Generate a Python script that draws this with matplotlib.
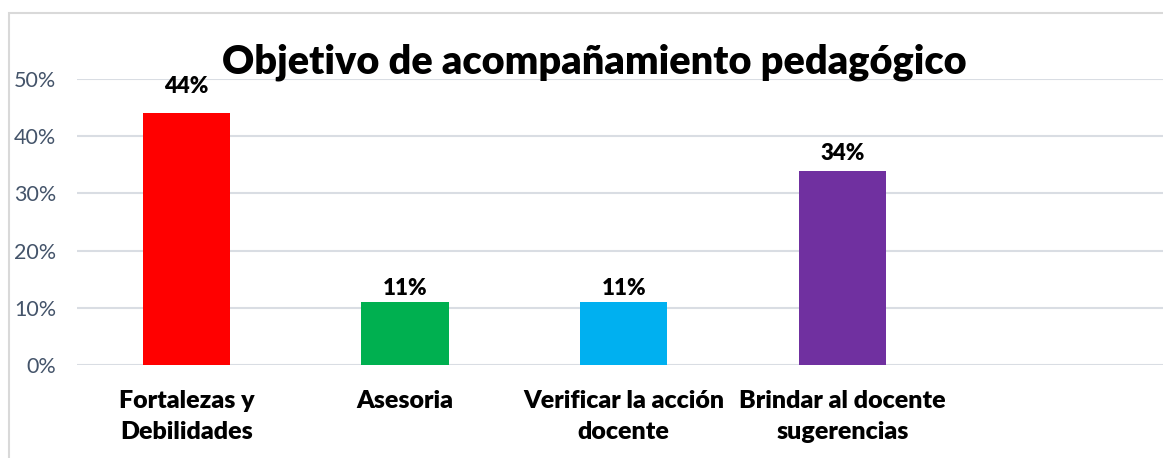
import matplotlib.pyplot as plt
from matplotlib.patches import Rectangle
from matplotlib.ticker import FuncFormatter

categorias = ["Fortalezas y\nDebilidades", "Asesoria", "Verificar la acción\ndocente", "Brindar al docente\nsugerencias"]
valores = [0.44, 0.11, 0.11, 0.34]
colores = ["#FF0000", "#00B050", "#00B0F0", "#7030A0"]
etiquetas = ["44%", "11%", "11%", "34%"]
desplaz = [12, 2, 2, 5]  # label offset above bar (points)
titulo = "Objetivo de acompañamiento pedagógico"

plt.rcParams['font.family'] = ['Lato', 'DejaVu Sans']

W, H = 1163, 458
fig = plt.figure(figsize=(W/100, H/100), dpi=100)

# chart border (cropped on right/bottom)
fig.patches.append(Rectangle((9/W, -0.1), 1.2, 1.1 - 13/H, transform=fig.transFigure,
                             fill=False, edgecolor="#D9D9D9", lw=1.5))

ax = fig.add_axes([77/W, (H-365)/H, 1 - 77/W, (365-79)/H])
x = list(range(len(categorias)))
ax.bar(x, valores, width=0.40, color=colores, zorder=3)
ax.set_xlim(-0.5, -0.5 + (W-77)/218.7)
ax.set_ylim(0, 0.5)
ax.set_yticks([0, 0.1, 0.2, 0.3, 0.4, 0.5])
ax.yaxis.set_major_formatter(FuncFormatter(lambda v, p: f"{v*100:.0f}%"))
ax.grid(axis="y", color="#D9DDE3", lw=1.5, zorder=0)
ax.set_axisbelow(True)
for s in ax.spines.values():
    s.set_visible(False)
ax.tick_params(axis="y", length=0, pad=15, labelsize=15.5, labelcolor="#44546A")
ax.tick_params(axis="x", length=0, pad=18)
ax.set_xticks(x)
ax.set_xticklabels(categorias, fontsize=18, fontweight="heavy", linespacing=1.5)

for xi, v, t, d in zip(x, valores, etiquetas, desplaz):
    ax.annotate(t, (xi, v), xytext=(0, d), textcoords="offset points",
                ha="center", va="bottom", fontsize=16, fontweight="heavy")

fig.text(594/W, 1 - 62/H, titulo, ha="center", va="center", fontsize=28.5, fontweight="heavy")

fig.savefig("out.png", dpi=100)
